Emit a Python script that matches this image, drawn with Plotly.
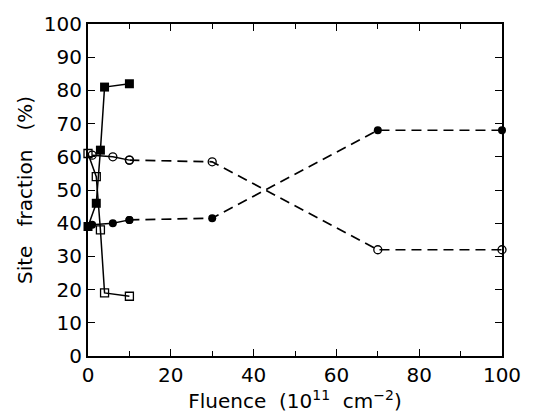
import plotly.graph_objects as go

# Data
sq_x = [0, 2, 3, 4, 10]
sq_filled = [39, 46, 62, 81, 82]
sq_open = [61, 54, 38, 19, 18]

circ_x_solid = [1, 6, 10]
circ_open_solid = [60.5, 60, 59]
circ_filled_solid = [39.5, 40, 41]

circ_x_dash = [10, 30, 70, 100]
circ_open_dash = [59, 58.5, 32, 32]
circ_filled_dash = [41, 41.5, 68, 68]

x_ticks = [0, 20, 40, 60, 80, 100]
y_ticks = list(range(0, 101, 10))

fig = go.Figure()
line = dict(color="black", width=1.5)
dline = dict(color="black", width=1.7, dash="10px,6px")

fig.add_trace(go.Scatter(x=circ_x_dash, y=circ_open_dash, mode="lines+markers", line=dline,
                         cliponaxis=False,
                         marker=dict(symbol="circle-open", size=8, color="black", line=dict(width=1.3))))
fig.add_trace(go.Scatter(x=circ_x_dash, y=circ_filled_dash, mode="lines+markers", line=dline,
                         cliponaxis=False,
                         marker=dict(symbol="circle", size=8, color="black")))
fig.add_trace(go.Scatter(x=circ_x_solid, y=circ_open_solid, mode="lines+markers", line=line,
                         cliponaxis=False,
                         marker=dict(symbol="circle-open", size=8, color="black", line=dict(width=1.3))))
fig.add_trace(go.Scatter(x=circ_x_solid, y=circ_filled_solid, mode="lines+markers", line=line,
                         cliponaxis=False,
                         marker=dict(symbol="circle", size=8, color="black")))
fig.add_trace(go.Scatter(x=sq_x, y=sq_open, mode="lines+markers", line=line,
                         cliponaxis=False,
                         marker=dict(symbol="square-open", size=8, color="black", line=dict(width=1.3))))
fig.add_trace(go.Scatter(x=sq_x, y=sq_filled, mode="lines+markers", line=line,
                         cliponaxis=False,
                         marker=dict(symbol="square", size=9, color="black")))

font = dict(family="DejaVu Sans, Verdana, sans-serif", size=20, color="black")

fig.update_layout(
    width=533, height=413,
    margin=dict(l=88, r=22, t=15, b=56),
    paper_bgcolor="white", plot_bgcolor="white",
    showlegend=False,
    font=font,
)
fig.update_xaxes(
    range=[0, 100], tickvals=x_ticks, ticks="inside", ticklen=7, tickwidth=1.2,
    tickcolor="black", showline=True, linecolor="black", linewidth=2, mirror="ticks",
    showgrid=False, zeroline=False,
    minor=dict(tickvals=[10, 30, 50, 70, 90], ticks="inside", ticklen=5, tickcolor="black"),
    title=dict(text="Fluence  (10<sup>11</sup>  cm<sup>−2</sup>)", font=font, standoff=0),
    tickfont=font,
)
fig.update_yaxes(
    range=[0, 100], tickvals=y_ticks, ticks="inside", ticklen=7, tickwidth=1.2,
    tickcolor="black", showline=True, linecolor="black", linewidth=2, mirror="ticks",
    showgrid=False, zeroline=False,
    title=dict(text="Site   fraction   (%)", font=font, standoff=6),
    tickfont=font,
)

fig.write_html("out.html")
